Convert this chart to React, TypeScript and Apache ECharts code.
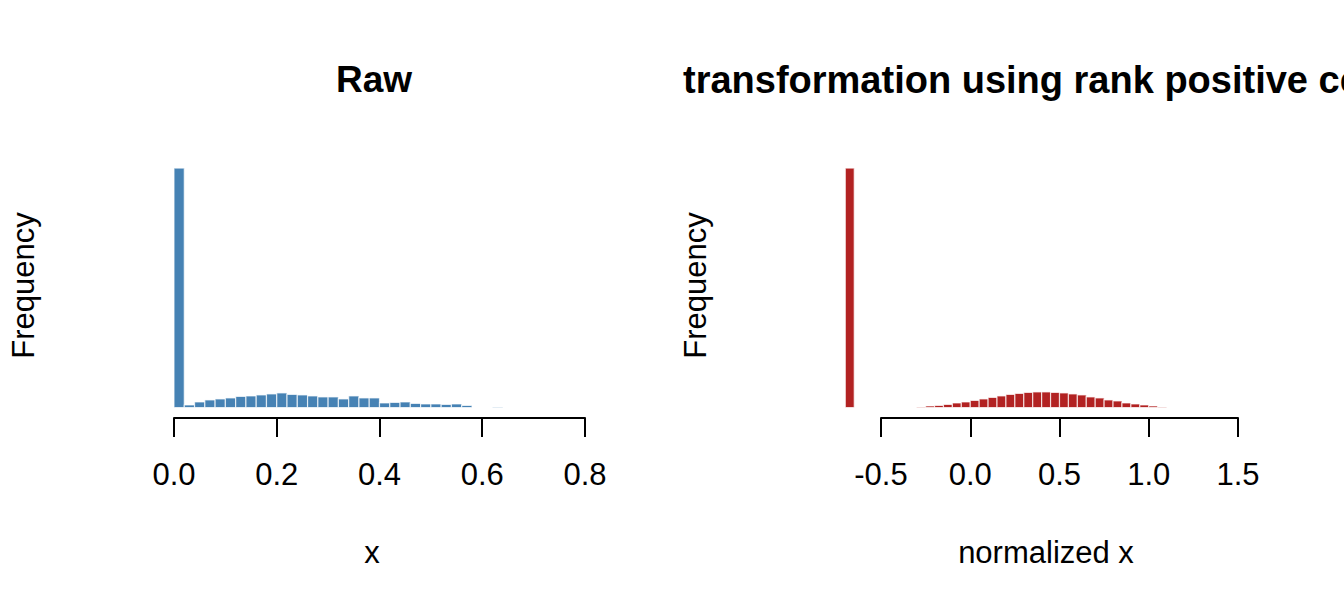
import React, { useEffect, useRef } from "react";
import * as echarts from "echarts";

// ---- data ----
const leftBinWidth = 0.02;
const leftBinStarts = [
  0.0, 0.02, 0.04, 0.06, 0.08, 0.1, 0.12, 0.14, 0.16, 0.18, 0.2, 0.22, 0.24, 0.26, 0.28, 0.3,
  0.32, 0.34, 0.36, 0.38, 0.4, 0.42, 0.44, 0.46, 0.48, 0.5, 0.52, 0.54, 0.56, 0.58, 0.6, 0.62,
];
const leftCounts = [
  478, 5, 11, 15, 17, 19, 22, 23, 25, 27, 29, 26, 25, 23, 21, 21,
  17, 23, 19, 19, 9, 10, 11, 8, 7, 7, 6, 7, 4, 0, 0, 1,
];

const rightBinWidth = 0.05;
const rightBinStarts = [
  -0.7, -0.3, -0.25, -0.2, -0.15, -0.1, -0.05, 0.0, 0.05, 0.1, 0.15, 0.2, 0.25, 0.3, 0.35,
  0.4, 0.45, 0.5, 0.55, 0.6, 0.65, 0.7, 0.75, 0.8, 0.85, 0.9, 0.95, 1.0, 1.05,
];
const rightCounts = [
  478, 1, 3, 4, 6, 9, 11, 14, 17, 20, 23, 26, 28, 30, 31,
  31, 30, 29, 27, 25, 21, 19, 15, 13, 9, 7, 5, 3, 1,
];

const leftTicks = { min: 0, max: 0.8, interval: 0.2 };
const rightTicks = { min: -0.5, max: 1.5, interval: 0.5 };

const titles = ["Raw", "transformation using rank positive cells"];
const xNames = ["x", "normalized x"];
const yName = "Frequency";

const FONT = '"Liberation Sans", Arial, Helvetica, sans-serif';
const BLUE = "#4682B4";
const RED = "#B22222";

function histData(starts: number[], width: number, counts: number[]) {
  return starts.map((s, i) => [s, s + width, counts[i]]);
}

function histSeries(idx: number, data: number[][], color: string) {
  return {
    type: "custom",
    xAxisIndex: idx,
    yAxisIndex: idx,
    clip: false,
    encode: { x: [0, 1], y: 2 },
    data,
    renderItem: (params: any, api: any) => {
      const x0 = api.value(0);
      const x1 = api.value(1);
      const y = api.value(2);
      const p0 = api.coord([x0, y]);
      const p1 = api.coord([x1, 0]);
      return {
        type: "rect",
        shape: { x: p0[0], y: p0[1], width: p1[0] - p0[0], height: p1[1] - p0[1] },
        style: { fill: color, stroke: "rgba(255,255,255,0.7)", lineWidth: 1.2 },
      };
    },
  };
}

function xAxisCfg(idx: number, t: { min: number; max: number; interval: number }) {
  return {
    gridIndex: idx,
    type: "value",
    min: t.min,
    max: t.max,
    interval: t.interval,
    axisLine: { show: true, onZero: false, lineStyle: { color: "#000", width: 2 } },
    axisTick: { show: true, length: 19, lineStyle: { color: "#000", width: 2 } },
    axisLabel: {
      show: true,
      fontSize: 31,
      fontFamily: FONT,
      color: "#000",
      margin: 41,
      showMinLabel: true,
      showMaxLabel: true,
      formatter: (v: number) => v.toFixed(1),
    },
    splitLine: { show: false },
  };
}

function yAxisCfg(idx: number) {
  return { gridIndex: idx, type: "value", min: -21, max: 508, show: false };
}

function txt(x: number, y: number, text: string, size: number, bold: boolean, align: string, rotation = 0) {
  const font = `${bold ? "bold " : ""}${size}px ${FONT}`;
  return {
    type: "text",
    x,
    y,
    rotation,
    style: {
      text,
      font,
      fill: "#000",
      align,
      verticalAlign: "middle",
      textAlign: align,
      textVerticalAlign: "middle",
    },
  };
}

export default function App() {
  const ref = useRef<HTMLDivElement>(null);
  useEffect(() => {
    document.body.style.margin = "0";
    if (!ref.current) return;
    const chart = echarts.init(ref.current, null, { renderer: "svg" });
    chart.setOption({
      animation: false,
      backgroundColor: "#ffffff",
      grid: [
        { left: 174, width: 411, top: 153, height: 265, outerBoundsMode: "none", containLabel: false },
        { left: 881, width: 357, top: 153, height: 265, outerBoundsMode: "none", containLabel: false },
      ],
      xAxis: [xAxisCfg(0, leftTicks), xAxisCfg(1, rightTicks)],
      yAxis: [yAxisCfg(0), yAxisCfg(1)],
      series: [
        histSeries(0, histData(leftBinStarts, leftBinWidth, leftCounts), BLUE),
        histSeries(1, histData(rightBinStarts, rightBinWidth, rightCounts), RED),
      ],
      graphic: [
        txt(374, 79.5, titles[0], 37, true, "center"),
        txt(683, 79.5, titles[1], 38, true, "left"),
        txt(372, 552.3, xNames[0], 31, false, "center"),
        txt(1046, 552.3, xNames[1], 31, false, "center"),
        txt(23, 285.5, yName, 31, false, "center", Math.PI / 2),
        txt(695, 285.5, yName, 31, false, "center", Math.PI / 2),
      ],
    });
    return () => chart.dispose();
  }, []);
  return <div ref={ref} style={{ width: 1344, height: 614 }} />;
}
